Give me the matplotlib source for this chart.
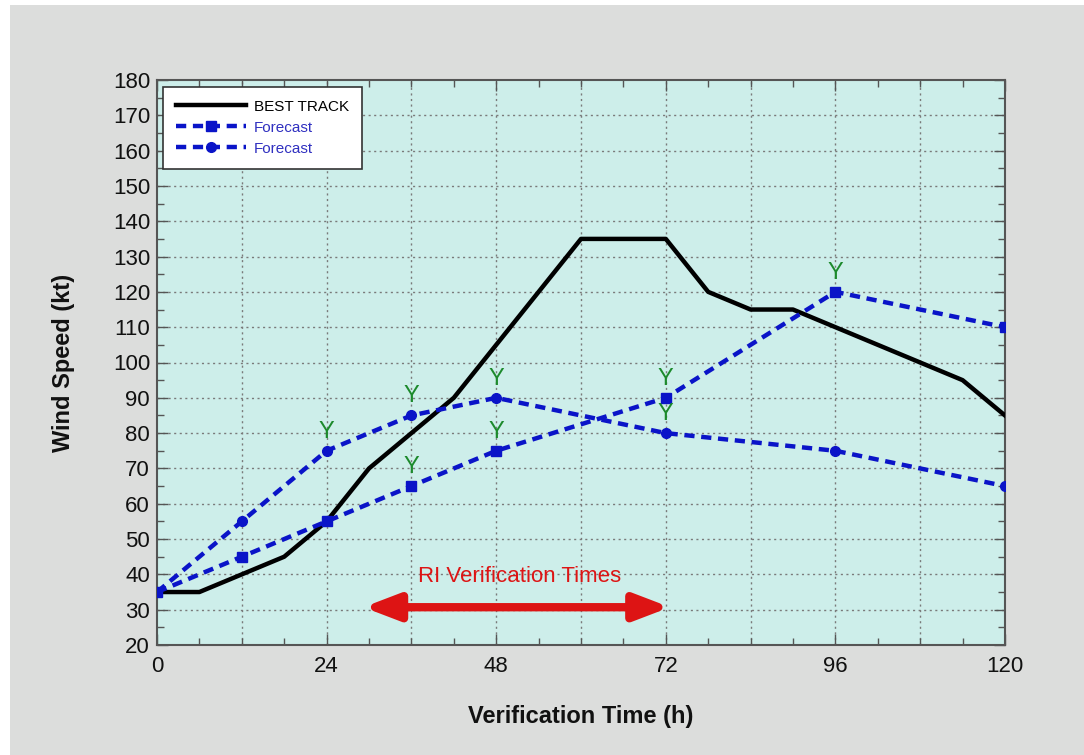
import matplotlib
matplotlib.use("Agg")
import matplotlib.pyplot as plt
from matplotlib.patches import Rectangle, FancyArrowPatch
from matplotlib.ticker import MultipleLocator, FixedLocator

plt.rcParams["font.family"] = ["Liberation Sans", "DejaVu Sans"]

# Best track intensity (6-hourly)
bt_hours = [0, 6, 12, 18, 24, 30, 36, 42, 48, 54, 60, 66, 72, 78, 84, 90, 96, 102, 108, 114, 120]
bt_wind = [35, 35, 40, 45, 55, 70, 80, 90, 105, 120, 135, 135, 135, 120, 115, 115, 110, 105, 100, 95, 85]

# Forecast A (square markers)
fa_hours = [0, 12, 24, 36, 48, 72, 96, 120]
fa_wind = [35, 45, 55, 65, 75, 90, 120, 110]
fa_yes = [36, 48, 72, 96]

# Forecast B (circle markers)
fb_hours = [0, 12, 24, 36, 48, 72, 96, 120]
fb_wind = [35, 55, 75, 85, 90, 80, 75, 65]
fb_yes = [24, 36, 48, 72]

x_ticks = [0, 24, 48, 72, 96, 120]
y_ticks = list(range(20, 181, 10))

ri_start, ri_end = 30, 72

fig = plt.figure(figsize=(10.84, 7.55), dpi=100, facecolor="white")
fig.patches.append(Rectangle((10 / 1084, 0), 1 - 10 / 1084, 1 - 5 / 755,
                             transform=fig.transFigure, facecolor="#dcdddc",
                             edgecolor="none", zorder=-10))

ax = fig.add_axes([157 / 1084, 1 - 645 / 755, (1005 - 157) / 1084, (645 - 80) / 755])
ax.set_facecolor("#cdeeea")

blue = "#0a14c8"
ax.plot(bt_hours, bt_wind, color="black", lw=3.2, label="BEST TRACK", zorder=3)
ax.plot(fa_hours, fa_wind, color=blue, lw=3.2, ls=(0, (2.3, 1.5)), marker="s",
        ms=7, label="Forecast", zorder=4)
ax.plot(fb_hours, fb_wind, color=blue, lw=3.2, ls=(0, (2.3, 1.5)), marker="o",
        ms=7, label="Forecast", zorder=4)

green = "#1c8a2c"
for h in fa_yes:
    v = fa_wind[fa_hours.index(h)]
    ax.text(h, v + 2.3, "Y", color=green, fontsize=17, ha="center", va="bottom", zorder=5)
for h in fb_yes:
    v = fb_wind[fb_hours.index(h)]
    ax.text(h, v + 2.3, "Y", color=green, fontsize=17, ha="center", va="bottom", zorder=5)

# double-headed arrow spanning the RI verification window
red = "#dd1414"
arrow = FancyArrowPatch((ri_start - 0.8, 30.7), (ri_end + 0.6, 30.7),
                        arrowstyle="<|-|>,head_length=1.1,head_width=0.42",
                        mutation_scale=19, color=red, lw=6, shrinkA=0, shrinkB=0,
                        capstyle="butt", zorder=5)
ax.add_patch(arrow)
ax.text((ri_start + ri_end) / 2 + 0.3, 36.3, "RI Verification Times", color=red,
        fontsize=16, ha="center", va="bottom", zorder=5)

ax.set_xlim(0, 120)
ax.set_ylim(20, 180)
ax.xaxis.set_major_locator(FixedLocator(x_ticks))
ax.xaxis.set_minor_locator(MultipleLocator(6))
ax.yaxis.set_major_locator(FixedLocator(y_ticks))
ax.yaxis.set_minor_locator(MultipleLocator(5))
ax.tick_params(which="both", direction="in", top=True, right=True, color="#555555")
ax.tick_params(which="major", length=8, width=1, labelsize=16, pad=5, labelcolor="#111111")
ax.tick_params(which="minor", length=5, width=1)
ax.tick_params(axis="x", which="major", pad=8)

# dotted grid every 12 h and every 10 kt
for h in range(12, 120, 12):
    ax.axvline(h, color="#7a7a7a", lw=1, ls=(0, (1.5, 2.5)), zorder=1)
for v in range(30, 180, 10):
    ax.axhline(v, color="#7a7a7a", lw=1, ls=(0, (1.5, 2.5)), zorder=1)

for s in ax.spines.values():
    s.set_color("#555555")
    s.set_linewidth(1.5)

ax.set_xlabel("Verification Time (h)", fontsize=17, fontweight="bold", labelpad=20,
              color="#111111")
ax.set_ylabel("Wind Speed (kt)", fontsize=17, fontweight="bold", labelpad=27,
              color="#111111")

leg = ax.legend(loc="upper left", fontsize=11, frameon=True, fancybox=False,
                edgecolor="#333333", framealpha=1, handlelength=4.6, borderpad=0.85,
                labelspacing=0.45, handletextpad=0.5, borderaxespad=0,
                bbox_to_anchor=(0.007, 0.988))
leg.get_frame().set_linewidth(1.2)
for t, c in zip(leg.get_texts(), ["black", "#3030c0", "#3030c0"]):
    t.set_color(c)

fig.savefig("out.png", dpi=100, facecolor=fig.get_facecolor())
